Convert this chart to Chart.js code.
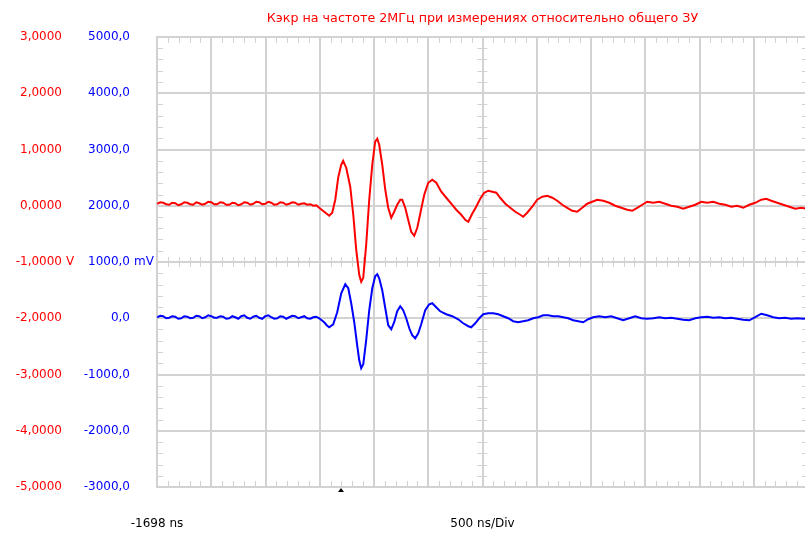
<!DOCTYPE html>
<html>
<head>
<meta charset="utf-8">
<script src="https://cdn.jsdelivr.net/npm/chart.js@4.4.0/dist/chart.umd.min.js"></script>
<style>
  html, body { margin: 0; padding: 0; background: #fff; overflow: hidden; }
  #wrap { width: 812px; height: 534px; }
</style>
</head>
<body>
<div id="wrap"><canvas id="scope" width="812" height="534"></canvas></div>
<script>
// --- Data ---
const titleText = 'Кэкр на частоте 2МГц при измерениях относительно общего ЗУ';
const timeStart = -1698;   // ns, left edge
const timeDiv = 500;       // ns per division
const timeDivs = 12;

const redLabels  = ['3,0000', '2,0000', '1,0000', '0,0000', '-1,0000', '-2,0000', '-3,0000', '-4,0000', '-5,0000'];
const redValues  = [3, 2, 1, 0, -1, -2, -3, -4, -5];
const blueLabels = ['5000,0', '4000,0', '3000,0', '2000,0', '1000,0', '0,0', '-1000,0', '-2000,0', '-3000,0'];

// channel 1 (red), time in ns, value in V
const redTime = [-1696,-1668,-1641,-1613,-1585,-1558,-1530,-1502,-1475,-1447,-1419,-1392,-1364,-1336,-1309,-1281,-1253,-1226,-1198,-1170,
  -1143,-1115,-1088,-1060,-1032,-1004,-977,-949,-922,-894,-866,-838,-811,-783,-756,-728,-700,-672,-645,-617,
  -590,-562,-535,-507,-479,-451,-424,-396,-369,-341,-313,-285,-258,-230,-203,-180,-157,-134,-111,-83,-55,-28,0,18,46,83,111,138,166,184,203,230,258,286,313,332,350,378,406,
  433,461,488,516,544,562,590,617,645,673,701,728,765,802,839,876,922,968,1014,1060,1106,1143,1171,1207,1244,1281,1318,1355,1392,1429,
  1465,1512,1558,1604,1650,1677,1714,1760,1806,1853,1899,1945,1991,2037,2083,2129,2175,2221,2267,2313,2359,2415,2470,2525,2581,2636,
  2682,2728,2774,2820,2876,2931,2986,3041,3097,3152,3207,3263,3318,3373,3429,3484,3539,3595,3650,3705,3761,3816,3871,3917,3963,4018,
  4074,4129,4184,4240,4295];
const redVolts = [0.036,0.062,0.053,0.027,0.018,0.053,0.044,0.009,0.027,0.062,0.053,0.027,0.018,0.062,0.044,0.018,0.036,0.071,0.062,0.027,
  0.027,0.062,0.053,0.018,0.018,0.053,0.044,0.009,0.027,0.062,0.053,0.018,0.036,0.071,0.062,0.027,0.036,0.071,0.053,0.018,
  0.027,0.062,0.053,0.018,0.036,0.062,0.053,0.018,0.036,0.044,0.018,0.027,0,0.009,-0.036,-0.071,-0.107,-0.142,-0.178,-0.124,0.107,0.5,0.73,0.8,0.676,0.338,-0.16,-0.78,-1.227,-1.351,-1.28,-0.693,0.107,0.729,1.138,1.191,1.084,0.729,0.284,
  -0.036,-0.213,-0.107,0.018,0.107,0.107,-0.036,-0.249,-0.462,-0.533,-0.391,-0.142,0.196,0.409,0.462,0.409,0.249,0.142,0.036,-0.071,-0.16,-0.249,-0.284,-0.142,-0.018,0.124,0.231,0.267,0.249,0.231,
  0.142,0.036,-0.036,-0.107,-0.16,-0.196,-0.124,-0.018,0.107,0.16,0.178,0.142,0.089,0.018,-0.036,-0.089,-0.107,-0.036,0.036,0.071,0.107,0.089,0.053,0,-0.036,-0.071,
  -0.089,-0.036,0.018,0.071,0.053,0.071,0.036,0,-0.018,-0.053,-0.018,0.018,0.071,0.053,0.071,0.036,0.018,-0.018,0,-0.036,0.018,0.053,0.107,0.124,0.089,0.053,
  0.018,-0.018,-0.053,-0.036,-0.053];

// channel 2 (blue), time in ns, value in mV
const blueTime = [-1696,-1668,-1641,-1613,-1585,-1558,-1530,-1502,-1475,-1447,-1419,-1392,-1364,-1336,-1309,-1281,-1253,-1226,-1198,-1170,
  -1143,-1115,-1088,-1060,-1032,-1004,-977,-949,-922,-894,-866,-838,-811,-783,-756,-728,-700,-672,-645,-617,
  -590,-562,-535,-507,-479,-451,-424,-396,-369,-341,-313,-285,-258,-230,-203,-180,-157,-134,-111,-74,-37,0,37,65,92,120,147,166,184,203,230,258,286,313,332,350,378,406,433,
  461,488,516,544,571,599,627,654,682,710,737,774,811,839,866,912,968,1023,1078,1124,1171,1198,1235,1272,1309,1355,1401,1447,1493,1539,
  1585,1631,1677,1723,1769,1816,1862,1908,1954,2000,2046,2092,2138,2184,2230,2276,2322,2378,2433,2488,2544,2599,2654,2710,2765,2820,
  2876,2931,2986,3041,3097,3152,3207,3263,3318,3373,3429,3484,3539,3595,3650,3705,3761,3816,3871,3926,3982,4037,4092,4147,4203,4258,4304];
const blueMilli = [18,44,36,0,9,36,27,-9,0,36,27,0,9,44,36,0,18,53,36,9,
  9,36,27,-9,0,36,18,-9,36,53,9,-9,27,44,9,-9,36,53,18,-9,
  0,36,27,-9,18,44,36,0,18,36,0,-9,18,27,0,-36,-71,-124,-160,-107,107,444,604,533,267,-71,-480,-747,-889,-818,-391,142,533,747,782,711,498,178,-124,
  -196,-71,124,213,142,0,-178,-302,-356,-267,-107,142,249,267,213,124,71,36,-18,-89,-142,-160,-89,0,71,89,89,71,36,0,
  -53,-71,-53,-36,0,18,53,53,36,36,18,0,-36,-53,-71,-18,18,36,18,36,0,-36,0,36,0,-9,
  0,18,0,9,-9,-27,-36,0,18,27,9,18,0,9,-9,-27,-36,18,80,53,18,0,9,-9,0,-9,0];

const gridColor = '#d2d2d2';
const fontFace = '12px "DejaVu Sans"';
const titleFont = '12.7px "DejaVu Sans"';

// --- Decorations: minor ticks, axis labels, trigger marker ---
const scopeDecor = {
  id: 'scopeDecor',
  beforeDatasetsDraw(chart) {
    const ctx = chart.ctx, a = chart.chartArea;
    const x = chart.scales.x, y = chart.scales.yR;
    const midY = y.getPixelForValue(-1);
    const midX = x.getPixelForValue(timeStart + timeDiv * timeDivs / 2);
    ctx.save();
    ctx.strokeStyle = gridColor;
    ctx.lineWidth = 1;
    ctx.beginPath();
    for (let k = 1; k < timeDivs * 5; k++) {
      if (k % 5 === 0) continue;
      const px = Math.round(x.getPixelForValue(timeStart + k * timeDiv / 5)) + 0.5;
      ctx.moveTo(px, a.top); ctx.lineTo(px, a.top + 6);
      ctx.moveTo(px, a.bottom); ctx.lineTo(px, a.bottom - 6);
      ctx.moveTo(px, midY - 5); ctx.lineTo(px, midY + 5);
    }
    for (let k = 1; k < 40; k++) {
      if (k % 5 === 0) continue;
      const py = Math.round(y.getPixelForValue(-5 + k * 0.2)) + 0.5;
      ctx.moveTo(a.left, py); ctx.lineTo(a.left + 6, py);
      ctx.moveTo(a.right, py); ctx.lineTo(a.right - 6, py);
      ctx.moveTo(midX - 5, py); ctx.lineTo(midX + 5, py);
    }
    ctx.stroke();
    ctx.restore();
  },
  afterDraw(chart) {
    const ctx = chart.ctx, a = chart.chartArea;
    const x = chart.scales.x, y = chart.scales.yR;
    const midX = x.getPixelForValue(timeStart + timeDiv * timeDivs / 2);
    ctx.save();
    ctx.font = fontFace;
    ctx.textBaseline = 'middle';
    redValues.forEach((v, i) => {
      const py = y.getPixelForValue(v);
      ctx.textAlign = 'right';
      ctx.fillStyle = '#ff0000';
      ctx.fillText(redLabels[i], 62, py);
      ctx.fillStyle = '#0000ff';
      ctx.fillText(blueLabels[i], 130, py);
      if (v === -1) {
        ctx.textAlign = 'left';
        ctx.fillStyle = '#ff0000';
        ctx.fillText('V', 66, py);
        ctx.fillStyle = '#0000ff';
        ctx.fillText('mV', 134, py);
      }
    });
    // bottom texts
    ctx.textAlign = 'center';
    ctx.fillStyle = '#000000';
    ctx.fillText(timeStart + ' ns', a.left, 524);
    ctx.fillText(timeDiv + ' ns/Div', midX, 524);
    // title
    ctx.font = titleFont;
    ctx.fillStyle = '#ff0000';
    ctx.fillText(titleText, midX, 19);
    // trigger marker
    ctx.fillStyle = '#000000';
    const tx = Math.round(x.getPixelForValue(0));
    ctx.beginPath();
    ctx.moveTo(tx, a.bottom + 1);
    ctx.lineTo(tx - 3, a.bottom + 5);
    ctx.lineTo(tx + 3, a.bottom + 5);
    ctx.closePath();
    ctx.fill();
    ctx.restore();
  }
};

const toPoints = (ts, vs) => ts.map((t, i) => ({ x: t, y: vs[i] }));

new Chart(document.getElementById('scope'), {
  type: 'line',
  data: {
    datasets: [
      { label: 'CH1', data: toPoints(redTime, redVolts), yAxisID: 'yR',
        borderColor: '#ff0000', borderWidth: 2, pointRadius: 0, tension: 0 },
      { label: 'CH2', data: toPoints(blueTime, blueMilli), yAxisID: 'yB',
        borderColor: '#0000ff', borderWidth: 2, pointRadius: 0, tension: 0 }
    ]
  },
  options: {
    responsive: false,
    animation: false,
    layout: { padding: { left: 157, top: 37, right: 4, bottom: 47 } },
    plugins: { legend: { display: false }, tooltip: { enabled: false } },
    scales: {
      x: {
        type: 'linear', min: timeStart, max: timeStart + timeDiv * timeDivs,
        afterBuildTicks(s) {
          s.ticks = [];
          for (let k = 0; k <= timeDivs; k++) s.ticks.push({ value: timeStart + k * timeDiv });
        },
        ticks: { display: false },
        grid: { color: gridColor, lineWidth: 2, drawTicks: false },
        border: { color: gridColor, width: 2 }
      },
      yR: {
        position: 'left', min: -5, max: 3,
        afterBuildTicks(s) { s.ticks = redValues.map(v => ({ value: v })); },
        ticks: { display: false },
        grid: { color: gridColor, lineWidth: 2, drawTicks: false },
        border: { color: gridColor, width: 2 }
      },
      yB: { display: false, min: -3000, max: 5000 }
    }
  },
  plugins: [scopeDecor]
});
</script>
</body>
</html>
